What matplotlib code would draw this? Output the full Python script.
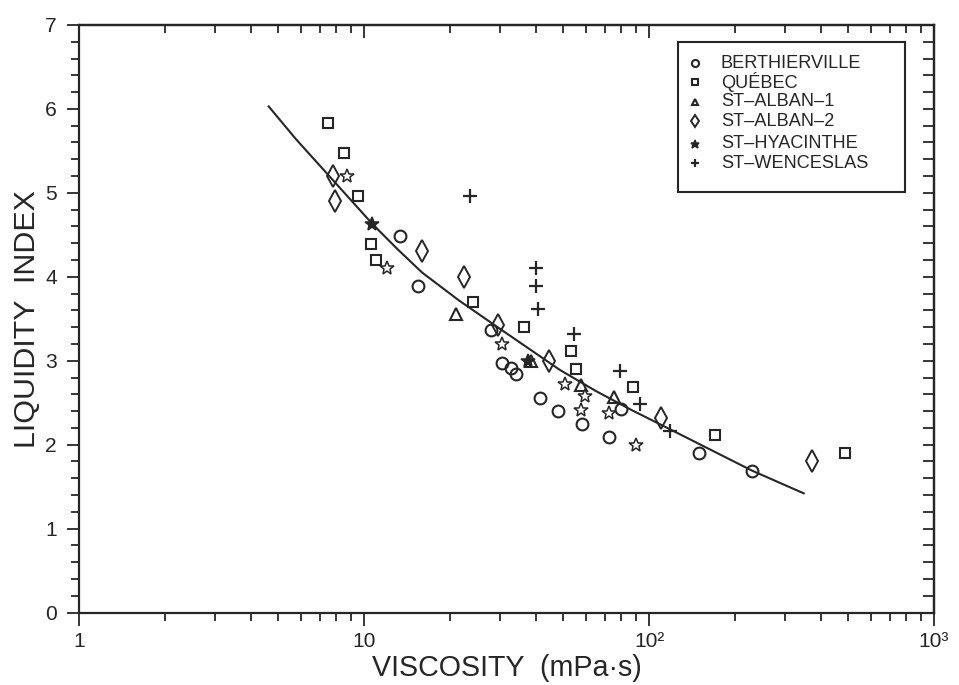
import numpy as np
import matplotlib
matplotlib.use("Agg")
import matplotlib.pyplot as plt
from matplotlib import font_manager
from matplotlib.ticker import (FixedLocator, FixedFormatter, LogLocator,
                               MultipleLocator, NullFormatter)
from matplotlib.patches import Rectangle

# ---------------------------------------------------------------- data
berthierville_x = [13.4, 15.5, 27.9, 30.4, 32.7, 34.1, 41.6, 47.9, 58.4, 72.6, 80.0, 150, 230]
berthierville_y = [4.49, 3.89, 3.37, 2.97, 2.91, 2.84, 2.55, 2.40, 2.25, 2.09, 2.42, 1.90, 1.69]

quebec_x = [7.5, 8.5, 9.5, 10.6, 11.0, 24.1, 36.5, 53.4, 55.4, 88, 170, 486]
quebec_y = [5.83, 5.47, 4.96, 4.39, 4.20, 3.70, 3.40, 3.11, 2.90, 2.69, 2.11, 1.90]

alban1_x = [21.1, 38.7, 57.6, 75.1]
alban1_y = [3.56, 3.00, 2.71, 2.57]

alban2_x = [7.8, 7.9, 15.95, 22.5, 29.6, 44.5, 110, 372]
alban2_y = [5.20, 4.90, 4.31, 4.00, 3.42, 3.00, 2.32, 1.80]

hyacinthe_x = [8.7, 10.7, 12.0, 30.4, 37.5, 50.8, 59.8, 57.9, 72.3, 90.2]
hyacinthe_y = [5.20, 4.63, 4.10, 3.20, 3.00, 2.72, 2.58, 2.41, 2.38, 1.99]
hyacinthe_solid = [False, True, False, False, True, False, False, False, False, False]

wenceslas_x = [23.6, 40.0, 40.0, 40.7, 54.4, 79.0, 93.3, 118.7]
wenceslas_y = [4.96, 4.10, 3.89, 3.62, 3.32, 2.88, 2.49, 2.16]

# trend curve traced through the cloud
trend_x = [4.63, 5.77, 7.6, 10.7, 13.1, 16, 21.5, 30, 48.7, 65, 86, 119, 160, 230, 349]
trend_y = [6.03, 5.64, 5.19, 4.63, 4.33, 4.05, 3.72, 3.38, 2.89, 2.64, 2.42, 2.18, 1.96, 1.69, 1.42]

series_names = ["BERTHIERVILLE", "QUÉBEC", "ST\u2013ALBAN\u20131", "ST\u2013ALBAN\u20132",
                "ST\u2013HYACINTHE", "ST\u2013WENCESLAS"]

x_ticks = [1, 10, 100, 1000]
x_tick_labels = ["1", "10", "10\u00b2", "10\u00b3"]
y_ticks = [0, 1, 2, 3, 4, 5, 6, 7]

# ---------------------------------------------------------------- fonts
installed = {f.name for f in font_manager.fontManager.ttflist}
if "Liberation Sans Narrow" in installed:
    family, k = "Liberation Sans Narrow", 1.0
else:
    family, k = "Liberation Sans", 0.84
plt.rcParams["font.family"] = [family, "DejaVu Sans"]

INK = "#262626"

fig = plt.figure(figsize=(9.59, 6.85), dpi=100)
W, H = 959, 685
x0, x1, yb, yt = 79, 934, 612.5, 25
ax = fig.add_axes([x0 / W, 1 - yb / H, (x1 - x0) / W, (yb - yt) / H])
ax.set_xscale("log")
ax.set_xlim(1, 1000)
ax.set_ylim(0, 7)

for s in ax.spines.values():
    s.set_linewidth(1.6)
    s.set_color(INK)

# bottom / left: outward ticks with labels
ax.xaxis.set_major_locator(FixedLocator(x_ticks))
ax.xaxis.set_major_formatter(FixedFormatter(x_tick_labels))
ax.xaxis.set_minor_locator(LogLocator(base=10, subs=np.arange(2, 10)))
ax.xaxis.set_minor_formatter(NullFormatter())
ax.yaxis.set_major_locator(FixedLocator(y_ticks))
ax.yaxis.set_minor_locator(MultipleLocator(0.2))
ax.tick_params(which="both", direction="out", width=1.3, color=INK, labelcolor=INK)
ax.tick_params(which="major", length=9)
ax.tick_params(which="minor", length=6)
ax.tick_params(axis="x", which="major", labelsize=18 * k, pad=5)
ax.tick_params(axis="y", which="major", labelsize=18 * k, pad=7)

# top / right: inward ticks, no labels
top = ax.secondary_xaxis("top")
top.xaxis.set_major_locator(FixedLocator(x_ticks))
top.xaxis.set_minor_locator(LogLocator(base=10, subs=np.arange(2, 10)))
top.xaxis.set_major_formatter(NullFormatter())
top.xaxis.set_minor_formatter(NullFormatter())
top.tick_params(which="both", direction="in", width=1.3, color=INK)
top.tick_params(which="major", length=9)
top.tick_params(which="minor", length=6)
top.spines["top"].set_linewidth(1.6)
top.spines["top"].set_color(INK)

right = ax.secondary_yaxis("right")
right.yaxis.set_major_locator(FixedLocator(y_ticks))
right.yaxis.set_minor_locator(MultipleLocator(0.2))
right.yaxis.set_major_formatter(NullFormatter())
right.yaxis.set_minor_formatter(NullFormatter())
right.tick_params(which="both", direction="in", width=1.3, color=INK, length=8)
right.spines["right"].set_linewidth(1.6)
right.spines["right"].set_color(INK)

# ---------------------------------------------------------------- marks
ax.plot(trend_x, trend_y, color=INK, lw=1.5, zorder=2)

styles = [
    dict(marker="o", ms=8.5, mew=1.5),
    dict(marker="s", ms=7.5, mew=1.5),
    dict(marker="^", ms=8, mew=1.5),
    dict(marker="d", ms=11, mew=1.4),
    dict(marker="*", ms=10.5, mew=1.1),
    dict(marker="+", ms=10, mew=1.6),
]
data = [
    (berthierville_x, berthierville_y),
    (quebec_x, quebec_y),
    (alban1_x, alban1_y),
    (alban2_x, alban2_y),
    (hyacinthe_x, hyacinthe_y),
    (wenceslas_x, wenceslas_y),
]

for (xs, ys), st in zip(data, styles):
    if st["marker"] == "*":
        solid = np.array(hyacinthe_solid)
        xs, ys = np.asarray(xs), np.asarray(ys)
        ax.plot(xs[~solid], ys[~solid], ls="none", mfc="white", mec=INK, zorder=3, **st)
        ax.plot(xs[solid], ys[solid], ls="none", mfc=INK, mec=INK, zorder=3, **st)
    else:
        ax.plot(xs, ys, ls="none", mfc="none", mec=INK, zorder=3, **st)

# ---------------------------------------------------------------- axis titles
ax.set_xlabel("VISCOSITY  (mPa\u00b7s)", fontsize=24.5 * k, color=INK, labelpad=2)
ax.set_ylabel("LIQUIDITY  INDEX", fontsize=26 * k, color=INK, labelpad=3)

# ---------------------------------------------------------------- legend box
def ax_pt(px, py):
    return (px - x0) / (x1 - x0), (yb - py) / (yb - yt)

bl = ax_pt(678, 192)
tr = ax_pt(905, 42)
ax.add_patch(Rectangle(bl, tr[0] - bl[0], tr[1] - bl[1], transform=ax.transAxes,
                       fill=False, lw=1.5, ec=INK, zorder=5))
row_py = [63, 82, 102, 121, 144, 163]
for name, st, py in zip(series_names, styles, row_py):
    mx, my = ax_pt(695, py)
    tx, _ = ax_pt(721, py)
    lst = dict(st)
    lst["ms"] = st["ms"] * 0.6
    fill = INK if st["marker"] == "*" else "none"
    ax.plot([mx], [my], transform=ax.transAxes, ls="none", mfc=fill, mec=INK,
            clip_on=False, zorder=6, **lst)
    ax.text(tx, my, name, transform=ax.transAxes, fontsize=15.5 * k, color=INK,
            va="center", ha="left", zorder=6)

fig.savefig("out.png", dpi=100, facecolor="white")
